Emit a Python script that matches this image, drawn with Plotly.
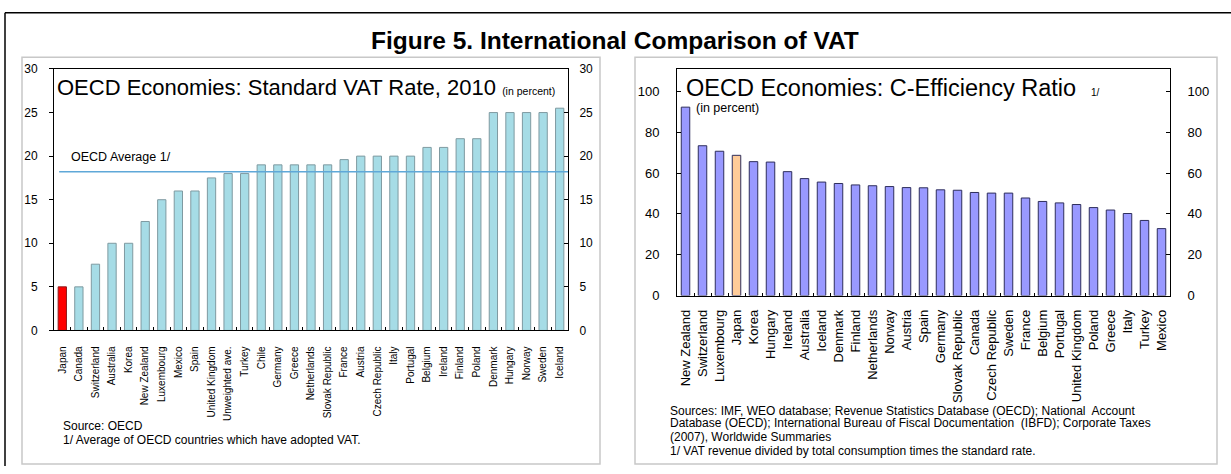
import plotly.graph_objects as go

W, H = 1231, 474

# ---- Standard VAT rate, 2010 (in percent) ----
vat_countries = [
    "Japan", "Canada", "Switzerland", "Australia", "Korea", "New Zealand",
    "Luxembourg", "Mexico", "Spain", "United Kingdom", "Unweighted ave.",
    "Turkey", "Chile", "Germany", "Greece", "Netherlands", "Slovak Republic",
    "France", "Austria", "Czech Republic", "Italy", "Portugal", "Belgium",
    "Ireland", "Finland", "Poland", "Denmark", "Hungary", "Norway", "Sweden",
    "Iceland",
]
vat_rates = [
    5, 5, 7.6, 10, 10, 12.5, 15, 16, 16, 17.5, 18, 18, 19, 19, 19, 19, 19,
    19.6, 20, 20, 20, 20, 21, 21, 22, 22, 25, 25, 25, 25, 25.5,
]
oecd_average = 18.2

# ---- C-efficiency ratio (in percent) ----
ce_countries = [
    "New Zealand", "Switzerland", "Luxembourg", "Japan", "Korea", "Hungary",
    "Ireland", "Australia", "Iceland", "Denmark", "Finland", "Netherlands",
    "Norway", "Austria", "Spain", "Germany", "Slovak Republic", "Canada",
    "Czech Republic", "Sweden", "France", "Belgium", "Portugal",
    "United Kingdom", "Poland", "Greece", "Italy", "Turkey", "Mexico",
]
ce_ratios = [
    92.3, 73.4, 70.7, 68.7, 65.6, 65.4, 60.7, 57.3, 55.6, 54.9, 54.2, 53.8,
    53.4, 52.9, 52.8, 51.8, 51.6, 50.5, 50.2, 50.2, 47.8, 46.1, 45.4, 44.6,
    43.1, 41.9, 40.2, 36.8, 32.8,
]

FONT = "Arial, Liberation Sans, sans-serif"


def px(x):
    return x / W


def py(y):
    return 1 - y / H


vat_colors = ["#FF0000" if c == "Japan" else "#A6DCE6" for c in vat_countries]
vat_lines = ["#8B1A1A" if c == "Japan" else "#7F9AA1" for c in vat_countries]
ce_colors = ["#FFCC99" if c == "Japan" else "#9999FF" for c in ce_countries]

fig = go.Figure()
fig.add_trace(go.Bar(
    x=vat_countries, y=vat_rates, xaxis="x", yaxis="y",
    marker=dict(color=vat_colors, line=dict(color=vat_lines, width=1)),
    showlegend=False, hoverinfo="x+y",
))
fig.add_trace(go.Bar(
    x=ce_countries, y=ce_ratios, xaxis="x2", yaxis="y2",
    marker=dict(color=ce_colors, line=dict(color="#2E2E5C", width=1)),
    showlegend=False, hoverinfo="x+y",
))
# invisible companions so the right-hand value axes get drawn
fig.add_trace(go.Scatter(
    x=vat_countries, y=vat_rates, xaxis="x", yaxis="y3", mode="markers",
    marker=dict(opacity=0), showlegend=False, hoverinfo="skip",
))
fig.add_trace(go.Scatter(
    x=ce_countries, y=ce_ratios, xaxis="x2", yaxis="y4", mode="markers",
    marker=dict(opacity=0), showlegend=False, hoverinfo="skip",
))

# plot-area rectangles (pixels)
L = dict(x0=54, x1=568, top=64, bottom=334)
R = dict(x0=677, x1=1170, top=64, bottom=298)

axis_common = dict(showgrid=False, zeroline=False, showline=True,
                   linecolor="#000000", linewidth=1)

fig.update_layout(
    width=W, height=H,
    margin=dict(l=0, r=0, t=0, b=0),
    paper_bgcolor="white", plot_bgcolor="white",
    bargap=0.5,
    font=dict(family=FONT, color="#000000"),
    xaxis=dict(
        domain=[px(L["x0"]), px(L["x1"])], anchor="y", **axis_common,
        mirror=True, ticks="inside", ticklen=3, tickson="boundaries",
        tickcolor="#000000", tickangle=-90, ticklabelstandoff=11,
        tickfont=dict(size=10, family=FONT),
        range=[-0.5, len(vat_countries) - 0.5],
    ),
    yaxis=dict(
        domain=[py(L["bottom"]), py(L["top"])], anchor="x", **axis_common,
        range=[0, 30], dtick=5, ticks="outside", ticklen=4,
        tickcolor="#000000", ticklabelstandoff=9,
        tickfont=dict(size=12, family=FONT),
    ),
    yaxis3=dict(
        domain=[py(L["bottom"]), py(L["top"])], anchor="x", overlaying="y",
        side="right", **axis_common, range=[0, 30], dtick=5,
        ticks="inside", ticklen=4, tickcolor="#000000", ticklabelstandoff=8,
        tickfont=dict(size=12, family=FONT),
    ),
    xaxis2=dict(
        domain=[px(R["x0"]), px(R["x1"])], anchor="y2", **axis_common,
        mirror=True, ticks="inside", ticklen=3, tickson="boundaries",
        tickcolor="#000000", tickangle=-90, ticklabelstandoff=8,
        tickfont=dict(size=13, family=FONT),
        range=[-0.5, len(ce_countries) - 0.5],
    ),
    yaxis2=dict(
        domain=[py(R["bottom"]), py(R["top"])], anchor="x2", **axis_common,
        range=[0, 111], dtick=20, ticks="inside", ticklen=4,
        tickcolor="#000000", ticklabelstandoff=14,
        tickfont=dict(size=13, family=FONT),
    ),
    yaxis4=dict(
        domain=[py(R["bottom"]), py(R["top"])], anchor="x2", overlaying="y2",
        side="right", **axis_common, range=[0, 111], dtick=20,
        ticks="inside", ticklen=4, tickcolor="#000000", ticklabelstandoff=14,
        tickfont=dict(size=13, family=FONT),
    ),
)

shapes = [
    # outer frame (left and top edges)
    dict(type="line", xref="paper", yref="paper", x0=px(5), x1=px(5),
         y0=0, y1=py(6), line=dict(color="#000000", width=1.5)),
    dict(type="line", xref="paper", yref="paper", x0=px(5), x1=1,
         y0=py(6), y1=py(6), line=dict(color="#000000", width=1.5)),
    # panel borders
    dict(type="rect", xref="paper", yref="paper", x0=px(22), x1=px(600),
         y0=py(472), y1=py(52), line=dict(color="#C8C8C8", width=1.5)),
    dict(type="rect", xref="paper", yref="paper", x0=px(635), x1=px(1217),
         y0=py(472), y1=py(52), line=dict(color="#C8C8C8", width=1.5)),
    # OECD average reference line
    dict(type="line", xref="x domain", yref="y", x0=0.01, x1=1,
         y0=oecd_average, y1=oecd_average,
         line=dict(color="#5FA8D8", width=1.5)),
]
fig.update_layout(shapes=shapes)


def note(x, y, text, size, **kw):
    fig.add_annotation(xref="paper", yref="paper", x=px(x), y=py(y),
                       text=text, showarrow=False, xanchor="left",
                       yanchor="middle", align="left",
                       font=dict(family=FONT, size=size, color="#000000"), **kw)


# figure title
fig.add_annotation(xref="paper", yref="paper", x=px(615), y=py(35),
                   text="<b>Figure 5. International Comparison of VAT</b>",
                   showarrow=False, xanchor="center", yanchor="middle",
                   font=dict(family=FONT, size=24.5, color="#000000"))

# left panel texts
note(55, 83, "OECD Economies: Standard VAT Rate, 2010 "
     "<span style='font-size:10.5px'>(in percent)</span>", 22)
note(69, 155, "OECD Average 1/", 12.5)
note(61, 433, "Source: OECD", 12)
note(61, 447, "1/ Average of OECD countries which have adopted VAT.", 12)

# right panel texts
note(684, 84, "OECD Economies: C-Efficiency Ratio", 23.5)
note(1089, 88, "1/", 10)
note(694, 104, "(in percent)", 12.5)
note(668, 417, "Sources: IMF, WEO database; Revenue Statistics Database (OECD); "
     "National  Account", 12)
note(668, 430, "Database (OECD); International Bureau of Fiscal Documentation  "
     "(IBFD); Corporate Taxes", 12)
note(668, 444, "(2007), Worldwide Summaries", 12)
note(668, 458, "1/ VAT revenue divided by total consumption times the standard "
     "rate.", 12)

fig.write_html("out.html")
